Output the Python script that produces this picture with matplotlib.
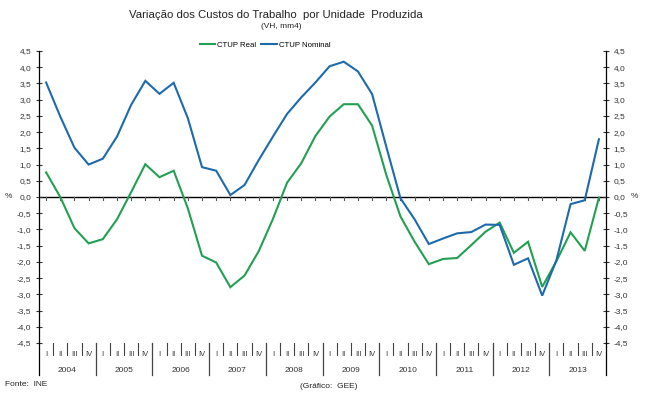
import matplotlib
matplotlib.use("Agg")
import matplotlib.pyplot as plt
import numpy as np

plt.rcParams['font.family'] = ['Liberation Sans', 'DejaVu Sans']

years = ['2004', '2005', '2006', '2007', '2008', '2009', '2010', '2011', '2012', '2013']
quarters = ['I', 'II', 'III', 'IV']

ctup_real = [0.76, 0.0, -0.96, -1.43, -1.30, -0.69, 0.15, 1.01,
             0.61, 0.81, -0.35, -1.81, -2.02, -2.78, -2.42, -1.67,
             -0.68, 0.44, 1.04, 1.88, 2.48, 2.86, 2.86, 2.20,
             0.68, -0.60, -1.38, -2.07, -1.91, -1.88, -1.48, -1.07,
             -0.79, -1.72, -1.38, -2.77, -1.98, -1.09, -1.66, -0.02]
ctup_nominal = [3.53, 2.48, 1.52, 1.00, 1.18, 1.86, 2.84, 3.58,
                3.18, 3.52, 2.43, 0.92, 0.81, 0.06, 0.37, 1.14,
                1.86, 2.56, 3.07, 3.53, 4.03, 4.17, 3.87, 3.17,
                1.55, -0.04, -0.69, -1.45, -1.28, -1.12, -1.08, -0.85,
                -0.86, -2.09, -1.89, -3.04, -1.95, -0.22, -0.10, 1.78]
yticks = [-4.5, -4.0, -3.5, -3.0, -2.5, -2.0, -1.5, -1.0, -0.5, 0.0,
          0.5, 1.0, 1.5, 2.0, 2.5, 3.0, 3.5, 4.0, 4.5]

W, H = 646, 397
fig = plt.figure(figsize=(W / 100, H / 100), dpi=100)
x0, x1, ytop, ybot = 39, 606, 51, 343
ax = fig.add_axes([x0 / W, 1 - ybot / H, (x1 - x0) / W, (ybot - ytop) / H])

green = '#22a052'
blue = '#1d6aac'
x = np.arange(len(ctup_real))
ax.plot(x, ctup_real, color=green, lw=1.5, label='CTUP Real', solid_joinstyle='miter')
ax.plot(x, ctup_nominal, color=blue, lw=1.5, label='CTUP Nominal', solid_joinstyle='miter')

ax.set_xlim(-0.5, len(x) - 0.5)
ax.set_ylim(-4.5, 4.5)
ax.axhline(0, color='black', lw=1.0, zorder=1)

for s in ['top', 'bottom']:
    ax.spines[s].set_visible(False)
for s in ['left', 'right']:
    ax.spines[s].set_color('black')
    ax.spines[s].set_linewidth(0.9)

ax.set_yticks(yticks)
ax.set_yticklabels([f"{v:.1f}".replace('.', ',') for v in yticks])
ax.tick_params(axis='y', direction='inout', length=5, width=0.8, labelsize=6,
               left=True, right=True, labelleft=True, labelright=True, pad=3,
               colors='#333333')
ax.set_xticks([])

# small ticks under the zero line at each category
for xi in x:
    ax.plot([xi, xi], [0, -0.1], color='#555555', lw=0.8, zorder=1)

# multi-level category axis
ph = ybot - ytop
trans = ax.get_xaxis_transform()
q_len = 12 / ph
y_len = 32 / ph
for k in range(len(x) + 1):
    xs = k - 0.5
    if k % 4 == 0:
        col = 'black' if k in (0, len(x)) else '#444444'
        ax.plot([xs, xs], [0, -y_len], transform=trans, color=col, lw=0.9, clip_on=False)
    else:
        ax.plot([xs, xs], [0, -q_len], transform=trans, color='#444444', lw=0.8, clip_on=False)
for k in range(len(x)):
    ax.text(k, -11 / ph, quarters[k % 4], transform=trans, ha='center', va='center',
            fontsize=5.5, color='#333333')
for i, yr in enumerate(years):
    ax.text(4 * i + 1.5, -27 / ph, yr, transform=trans, ha='center', va='center',
            fontsize=6, color='#333333')

# % labels
fig.text(8 / W, 1 - 197 / H, '%', fontsize=6, ha='center', va='center', color='#333333')
fig.text(634 / W, 1 - 197 / H, '%', fontsize=6, ha='center', va='center', color='#333333')

# titles
fig.text(276 / W, 1 - 15 / H, 'Variação dos Custos do Trabalho  por Unidade  Produzida',
         fontsize=8.2, ha='center', va='center', color='#222222')
fig.text(281 / W, 1 - 27 / H, '(VH, mm4)', fontsize=6, ha='center', va='center', color='#222222')

fig.legend(loc='center', bbox_to_anchor=(265 / W, 1 - 45 / H), ncol=2, frameon=False,
           fontsize=5.6, handlelength=2.0, handletextpad=0.2, columnspacing=0.7)

fig.text(5 / W, 1 - 385 / H, 'Fonte:  INE', fontsize=6, ha='left', va='center', color='#222222')
fig.text(300 / W, 1 - 386 / H, '(Gráfico:  GEE)', fontsize=6, ha='left', va='center', color='#222222')

fig.savefig('out.png', dpi=100)
